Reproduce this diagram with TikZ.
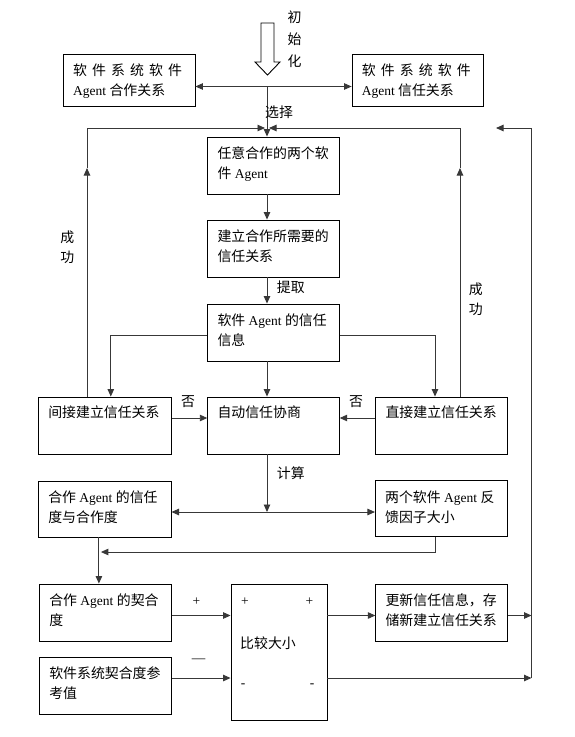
\documentclass[tikz,border=0pt]{standalone}
\usepackage{fontspec}
\setmainfont{Liberation Serif}
\newfontfamily\cjk{Noto Sans CJK SC}[Scale=1.03]
\usetikzlibrary{arrows.meta,calc}
\newcommand\z[1]{{\cjk #1}}
\newcommand\fs{\fontsize{13.5}{20}\selectfont}
\newcommand\chsp{\hspace{5.1pt}}
\tikzset{
  box/.style={draw=black, line width=0.9pt, inner sep=0pt},
  txt/.style={anchor=base west, inner sep=0pt, font=\fs},
  lbl/.style={inner sep=0pt, font=\fs},
  conn/.style={draw=black!78, line width=0.9pt},
  arr/.style={conn, -{Triangle[length=7.5pt,width=6.5pt]}},
}
\begin{document}
\begin{tikzpicture}[x=1pt,y=-1pt]
\fill[white] (0,0) rectangle (574,737);
\useasboundingbox (0,0) rectangle (574,737);

% hollow arrow and its label
\draw[line width=0.9pt, fill=white] (261,23) -- (274,23) -- (274,62) -- (280,62) -- (267.5,75) -- (255,62) -- (261,62) -- cycle;
\node[lbl, align=center, font=\fontsize{13.5}{22}\selectfont\cjk] (init) at (294.7,39) {初\\始\\化};

% boxes
\node[box, minimum width=131.5pt, minimum height=52pt] (topL) at (129.2,80) {};
\node[box, minimum width=131.5pt, minimum height=52pt] (topR) at (417.8,80) {};
\node[box, minimum width=131.5pt, minimum height=57pt] (b1) at (273.5,165.5) {};
\node[box, minimum width=131.5pt, minimum height=57pt] (b2) at (273.5,248.5) {};
\node[box, minimum width=131.5pt, minimum height=57pt] (b3) at (273.5,332.5) {};
\node[box, minimum width=132.5pt, minimum height=57pt] (jian) at (104.8,425.5) {};
\node[box, minimum width=131.5pt, minimum height=57pt] (auto) at (273.5,425.5) {};
\node[box, minimum width=131.6pt, minimum height=57pt] (zhi) at (441.6,425.5) {};
\node[box, minimum width=132.5pt, minimum height=56pt] (trustL) at (104.8,509) {};
\node[box, minimum width=131.6pt, minimum height=56pt] (fb) at (441.2,508.7) {};
\node[box, minimum width=131.5pt, minimum height=57pt] (qh) at (105.3,612.5) {};
\node[box, minimum width=131.5pt, minimum height=57pt] (ref) at (105.3,685.5) {};
\node[box, minimum width=96pt, minimum height=136pt] (cmp) at (279,652) {};
\node[box, minimum width=131.6pt, minimum height=57pt] (upd) at (441.6,612.5) {};

% box texts
\node[txt] (topLt) at ([shift={(10,22)}]topL.north west) {\parbox[t]{125pt}{\z{软\chsp 件\chsp 系\chsp 统\chsp 软\chsp 件}\\Agent \z{合作关系}}};
\node[txt] (topRt) at ([shift={(10,22)}]topR.north west) {\parbox[t]{125pt}{\z{软\chsp 件\chsp 系\chsp 统\chsp 软\chsp 件}\\Agent \z{信任关系}}};
\node[txt] (b1t) at ([shift={(10,22)}]b1.north west) {\parbox[t]{125pt}{\z{任意合作的两个软}\\\z{件} Agent}};
\node[txt] (b2t) at ([shift={(10,22)}]b2.north west) {\parbox[t]{125pt}{\z{建立合作所需要的}\\\z{信任关系}}};
\node[txt] (b3t) at ([shift={(10,22)}]b3.north west) {\parbox[t]{125pt}{\z{软件} Agent \z{的信任}\\\z{信息}}};
\node[txt] (jiant) at ([shift={(10,21)}]jian.north west) {\z{间接建立信任关系}};
\node[txt] (autot) at ([shift={(10,21)}]auto.north west) {\z{自动信任协商}};
\node[txt] (zhit) at ([shift={(10,21)}]zhi.north west) {\z{直接建立信任关系}};
\node[txt] (trustLt) at ([shift={(10,22)}]trustL.north west) {\parbox[t]{125pt}{\z{合作} Agent \z{的信任}\\\z{度与合作度}}};
\node[txt] (fbt) at ([shift={(10,22)}]fb.north west) {\parbox[t]{125pt}{\z{两个软件} Agent \z{反}\\\z{馈因子大小}}};
\node[txt] (qht) at ([shift={(10,22)}]qh.north west) {\parbox[t]{125pt}{\z{合作} Agent \z{的契合}\\\z{度}}};
\node[txt] (reft) at ([shift={(10,22)}]ref.north west) {\parbox[t]{125pt}{\z{软件系统契合度参}\\\z{考值}}};
\node[txt] (updt) at ([shift={(10,22)}]upd.north west) {\parbox[t]{125pt}{\z{更新信任信息，存}\\\z{储新建立信任关系}}};

% texts inside the compare box
\node[lbl] (cpl) at (245,602) {+};
\node[lbl] (cpr) at (309.5,602) {+};
\node[lbl, anchor=west] (cmpt) at (240,643) {\z{比较大小}};
\node[lbl] (cml) at (243,686) {-};
\node[lbl] (cmr) at (312,686) {-};

% coordinates
\coordinate (cx) at (267,0);
\coordinate (sel) at (267,86.5);
\coordinate (top) at (267,128);
\coordinate (xl) at (87,0);
\coordinate (xr) at (460,0);
\coordinate (ml) at (87,168);
\coordinate (mr) at (460,168);
\coordinate (oc) at (496,128);
\coordinate (bl) at (110.8,335);
\coordinate (br) at (435,335);
\coordinate (ry) at (0,418);
\coordinate (calc) at (267,512);
\coordinate (lx) at (98.9,552);
\coordinate (p1) at (0,615.5);
\coordinate (p2) at (0,678);
\coordinate (o1) at (531.5,615.5);
\coordinate (o2) at (531.5,678);

% top connectors
\draw[arr] (sel) -- (sel -| topL.east);
\draw[arr] (sel) -- (sel -| topR.west);
\draw[arr] (sel) -- (b1.north -| cx);
\node[lbl, font=\fs\cjk] (selt) at (279,112) {选择};

% success loops
\draw[arr] (jian.north -| xl) -- (ml);
\draw[arr] (ml) -- (xl |- top) -- ([xshift=-2]top);
\draw[arr] (zhi.north -| xr) -- (mr);
\draw[arr] (mr) -- (xr |- top) -- ([xshift=2]top);
\node[lbl, align=center, font=\fs\cjk] (okl) at (67.3,247) {成\\功};
\node[lbl, align=center, font=\fs\cjk] (okr) at (475.7,299) {成\\功};

% main chain
\draw[arr] (b1.south -| cx) -- (b2.north -| cx);
\draw[arr] (b2.south -| cx) -- (b3.north -| cx);
\node[lbl, font=\fs\cjk] (tq) at (290.8,287) {提取};
\draw[arr] (b3.south -| cx) -- (auto.north -| cx);
\draw[arr] (b3.west |- bl) -- (bl) -- (jian.north -| bl);
\draw[arr] (b3.east |- br) -- (br) -- (zhi.north -| br);
\draw[arr] (jian.east |- ry) -- (auto.west |- ry);
\draw[arr] (zhi.west |- ry) -- (auto.east |- ry);
\node[lbl, font=\fs\cjk] (no1) at (188,402) {否};
\node[lbl, font=\fs\cjk] (no2) at (356,402) {否};

% calculation
\draw[arr] (auto.south -| cx) -- (calc);
\node[lbl, font=\fs\cjk] (js) at (290.8,473) {计算};
\draw[arr] (calc) -- (trustL.east |- calc);
\draw[arr] (calc) -- (fb.west |- calc);
\draw[arr] (trustL.south -| lx) -- (qh.north -| lx);
\draw[arr] (fb.south -| br) -- (br |- lx) -- ([xshift=2]lx);

% compare
\draw[arr] (qh.east |- p1) -- (cmp.west |- p1);
\draw[arr] (ref.east |- p2) -- (cmp.west |- p2);
\node[lbl] (plus) at (196.5,602) {+};
\node[lbl] (minus) at (198.5,661) {—};
\draw[arr] (cmp.east |- p1) -- (upd.west |- p1);
\draw[arr] (upd.east |- o1) -- (o1);
\draw[arr] (cmp.east |- o2) -- (o2);
\draw[arr] (o2) -- (o2 |- top) -- (oc);
\end{tikzpicture}
\end{document}
